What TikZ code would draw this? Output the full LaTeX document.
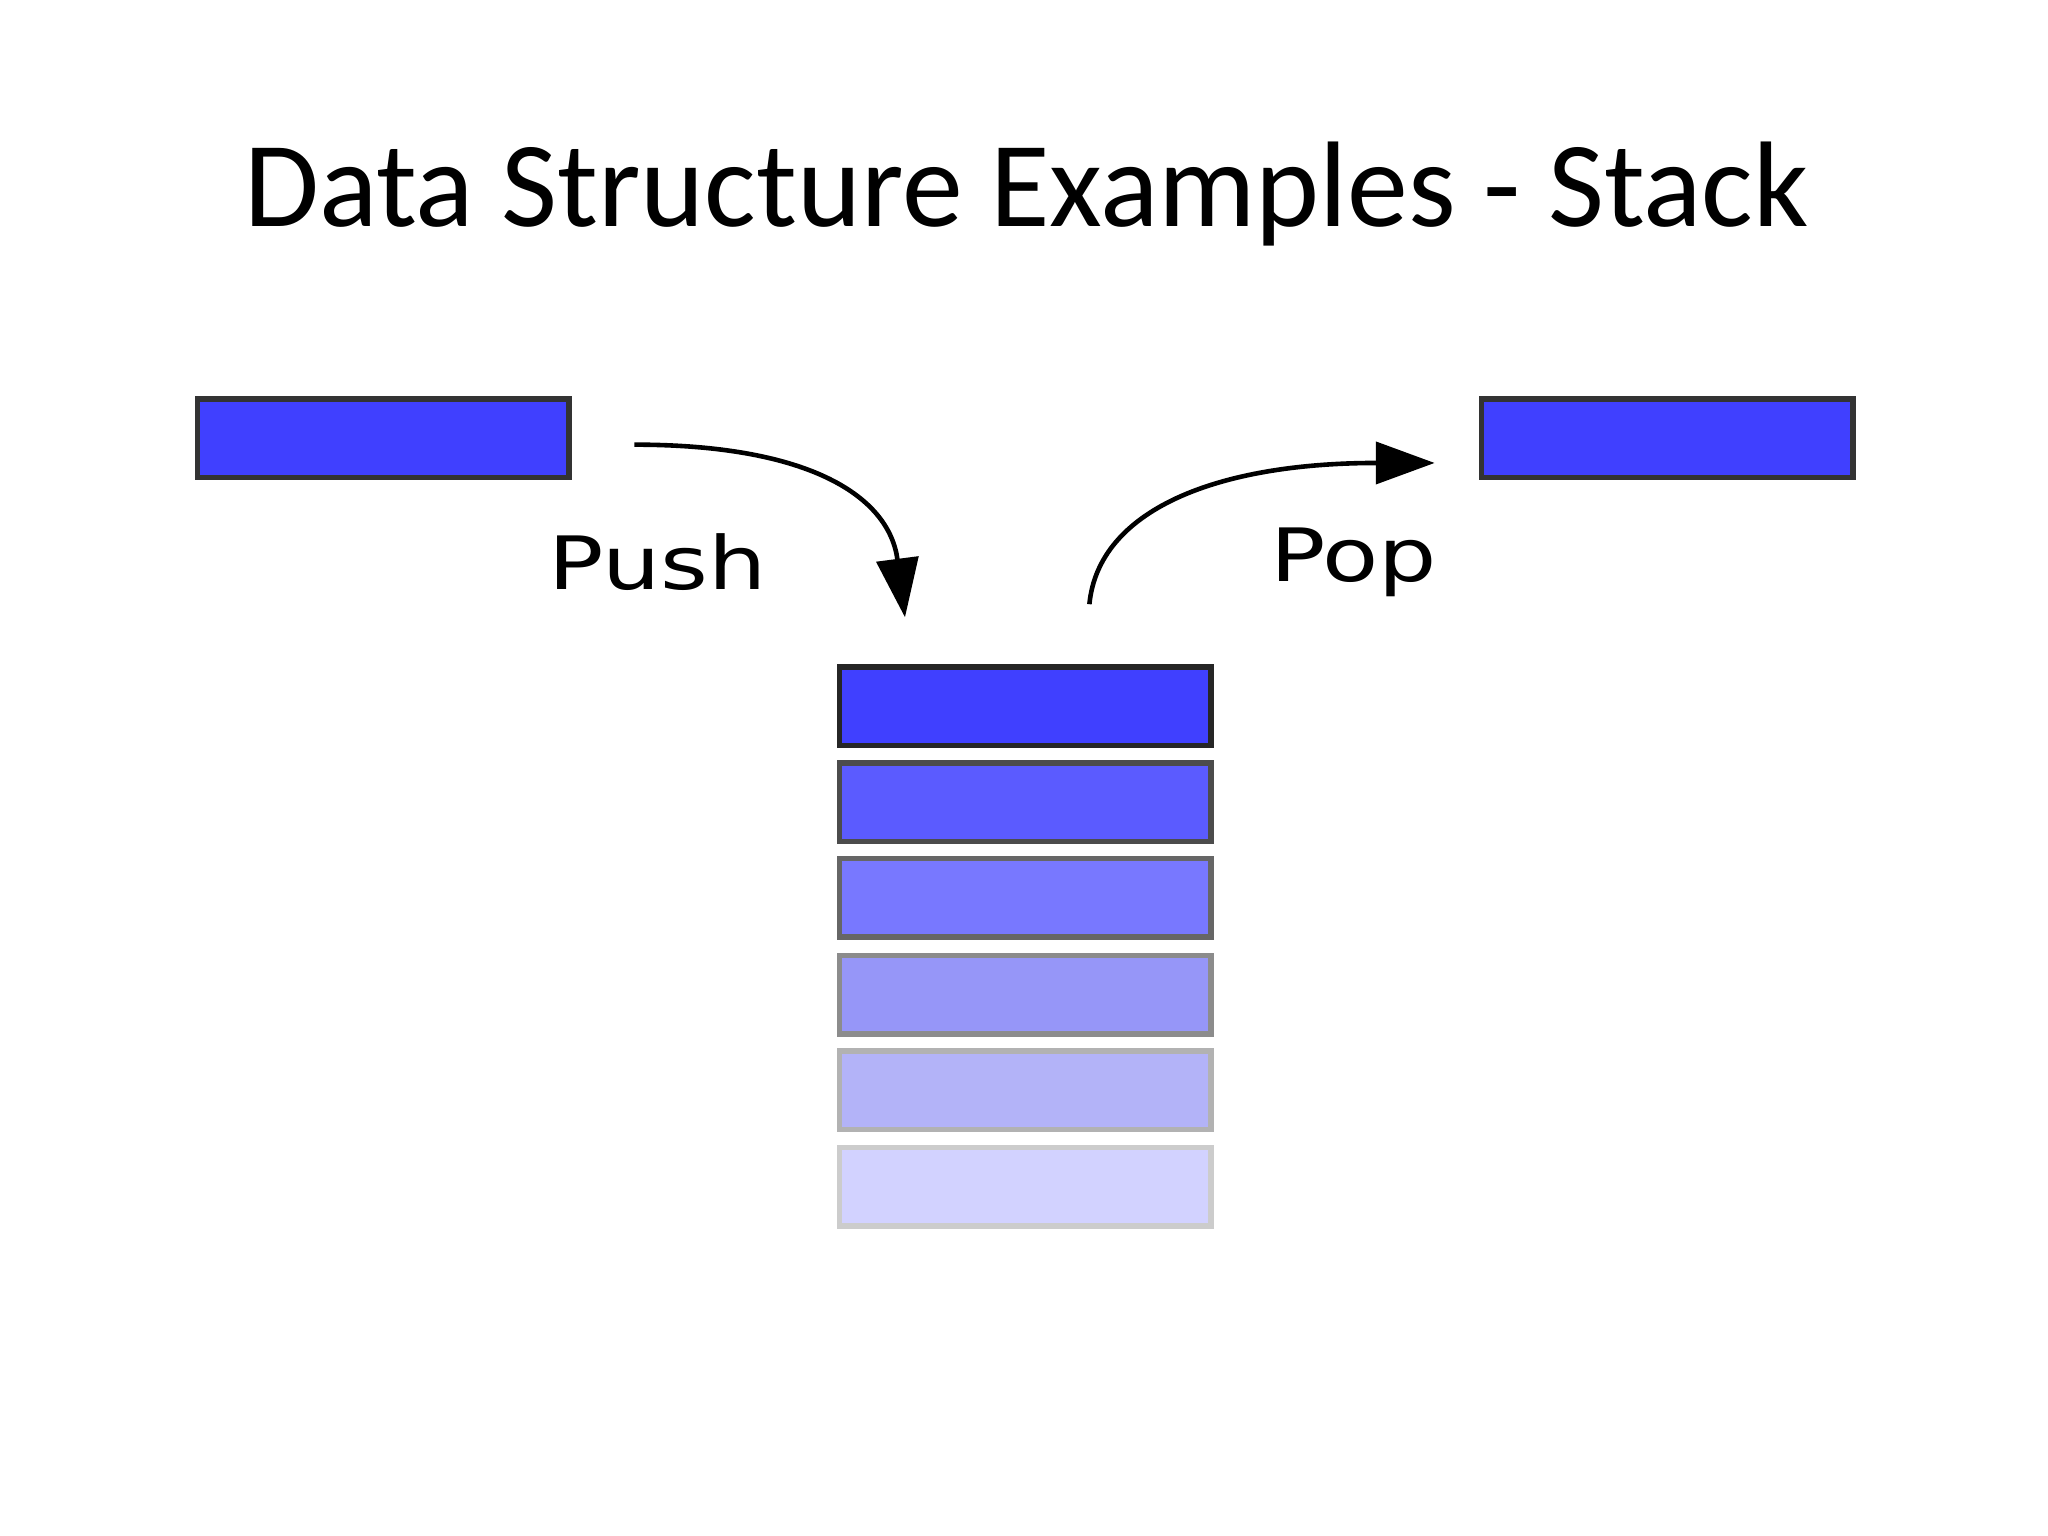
\documentclass[tikz,border=0pt]{standalone}
\usepackage{fontspec}
\setmainfont{Carlito}
\newfontfamily\lblfont{DejaVu Sans}
\usetikzlibrary{arrows.meta}
\definecolor{c1}{HTML}{4040FF}
\definecolor{c2}{HTML}{5B5BFF}
\definecolor{c3}{HTML}{7878FF}
\definecolor{c4}{HTML}{9696F8}
\definecolor{c5}{HTML}{B3B3F8}
\definecolor{c6}{HTML}{D2D2FF}
\tikzset{blk/.style={draw=#1,line width=1.2pt,minimum width=2.84cm,minimum height=0.60cm,inner sep=0pt},
arr/.style={line width=1pt,-{Triangle[length=0.45cm,width=0.32cm]}},
lbl/.style={font=\lblfont\fontsize{16}{18}\selectfont,xscale=1.25}}
\begin{document}
\begin{tikzpicture}[x=1cm,y=-1cm]
\useasboundingbox (0,0) rectangle (15.66,11.745);
\node (title) at (7.85,1.48) {\fontsize{26.5}{30}\selectfont Data Structure Examples - Stack};
\node[blk=black!80,fill=c1] (in) at (2.93,3.35) {};
\node[blk=black!80,fill=c1] (out) at (12.75,3.35) {};
\node[blk=black!85,fill=c1] (s1) at (7.84,5.40) {};
\node[blk=black!70,fill=c2] (s2) at (7.84,6.135) {};
\node[blk=black!60,fill=c3] (s3) at (7.84,6.865) {};
\node[blk=black!45,fill=c4] (s4) at (7.84,7.605) {};
\node[blk=black!30,fill=c5] (s5) at (7.84,8.335) {};
\node[blk=black!20,fill=c6] (s6) at (7.84,9.075) {};
\coordinate (pa) at (4.85,3.40);
\coordinate (pb) at (6.92,4.72);
\coordinate (qa) at (8.33,4.62);
\coordinate (qb) at (10.97,3.54);
\draw[arr] (pa) .. controls (6.2,3.40) and (6.8,3.8) .. (pb);
\draw[arr] (qa) .. controls (8.4,3.9) and (9.3,3.54) .. (qb);
\node[lbl] (push) at (5.03,4.30) {Push};
\node[lbl] (pop) at (10.35,4.30) {Pop};
\end{tikzpicture}
\end{document}
